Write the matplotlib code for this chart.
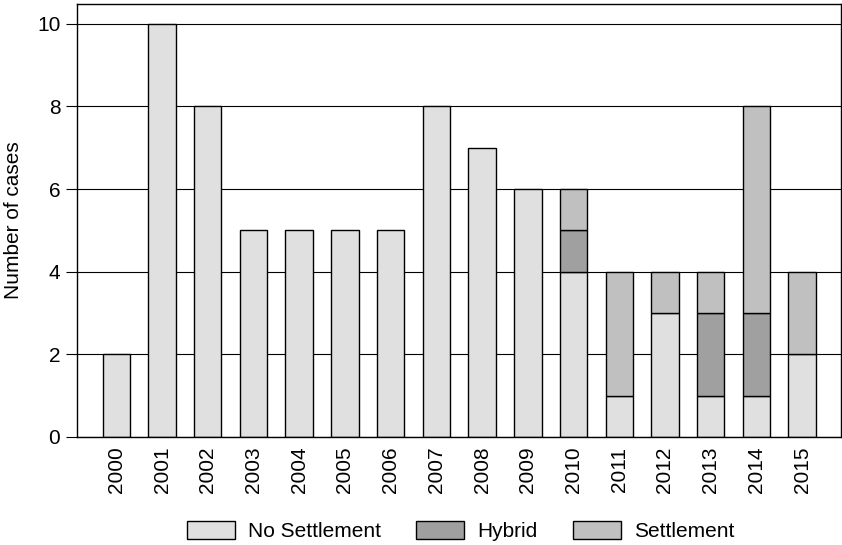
import matplotlib
matplotlib.use("Agg")
import matplotlib.pyplot as plt
import numpy as np
from matplotlib.patches import Patch

plt.rcParams['font.family'] = ['Liberation Sans', 'DejaVu Sans']

years = ['2000', '2001', '2002', '2003', '2004', '2005', '2006', '2007',
         '2008', '2009', '2010', '2011', '2012', '2013', '2014', '2015']
no_settlement = [2, 10, 8, 5, 5, 5, 5, 8, 7, 6, 4, 1, 3, 1, 1, 2]
hybrid =        [0, 0, 0, 0, 0, 0, 0, 0, 0, 0, 1, 0, 0, 2, 2, 0]
settlement =    [0, 0, 0, 0, 0, 0, 0, 0, 0, 0, 1, 3, 1, 1, 5, 2]
series_names = ['No Settlement', 'Hybrid', 'Settlement']
colors = ['#e0e0e0', '#a0a0a0', '#c0c0c0']

fig = plt.figure(figsize=(8.42, 5.45), dpi=100)
ax = fig.add_axes([77/842, 1-437/545, (841-77)/842, (437-4)/545])

x = np.arange(len(years))
ns = np.array(no_settlement)
hy = np.array(hybrid)
se = np.array(settlement)
w = 0.6
ax.set_axisbelow(True)
ax.yaxis.grid(True, color='black', linewidth=0.8)
ax.bar(x, ns, w, color=colors[0], edgecolor='black', linewidth=1)
mask = hy > 0
ax.bar(x[mask], hy[mask], w, bottom=ns[mask], color=colors[1], edgecolor='black', linewidth=1)
mask = se > 0
ax.bar(x[mask], se[mask], w, bottom=(ns + hy)[mask], color=colors[2], edgecolor='black', linewidth=1)

ax.set_xlim(-0.86, len(years) - 1 + 0.85)
ax.set_ylim(0, 10.48)
ax.set_yticks([0, 2, 4, 6, 8, 10])
ax.set_xticks(x)
ax.set_xticklabels(years, rotation=90)
ax.tick_params(axis='x', length=0, pad=7, labelsize=15)
ax.tick_params(axis='y', length=8, width=0.8, labelsize=15, pad=4)
ax.set_ylabel('Number of cases', fontsize=15, labelpad=10)
for s in ax.spines.values():
    s.set_color('black')
    s.set_linewidth(1)

handles = [Patch(facecolor=c, edgecolor='black', linewidth=1) for c in colors]
fig.legend(handles, series_names, loc='center', bbox_to_anchor=(0.547, 1-531/545),
           ncol=3, frameon=False, fontsize=15, handlelength=2.3, handleheight=1.0,
           handletextpad=0.62, columnspacing=1.7, borderpad=0)

fig.savefig('out.png', dpi=100)
